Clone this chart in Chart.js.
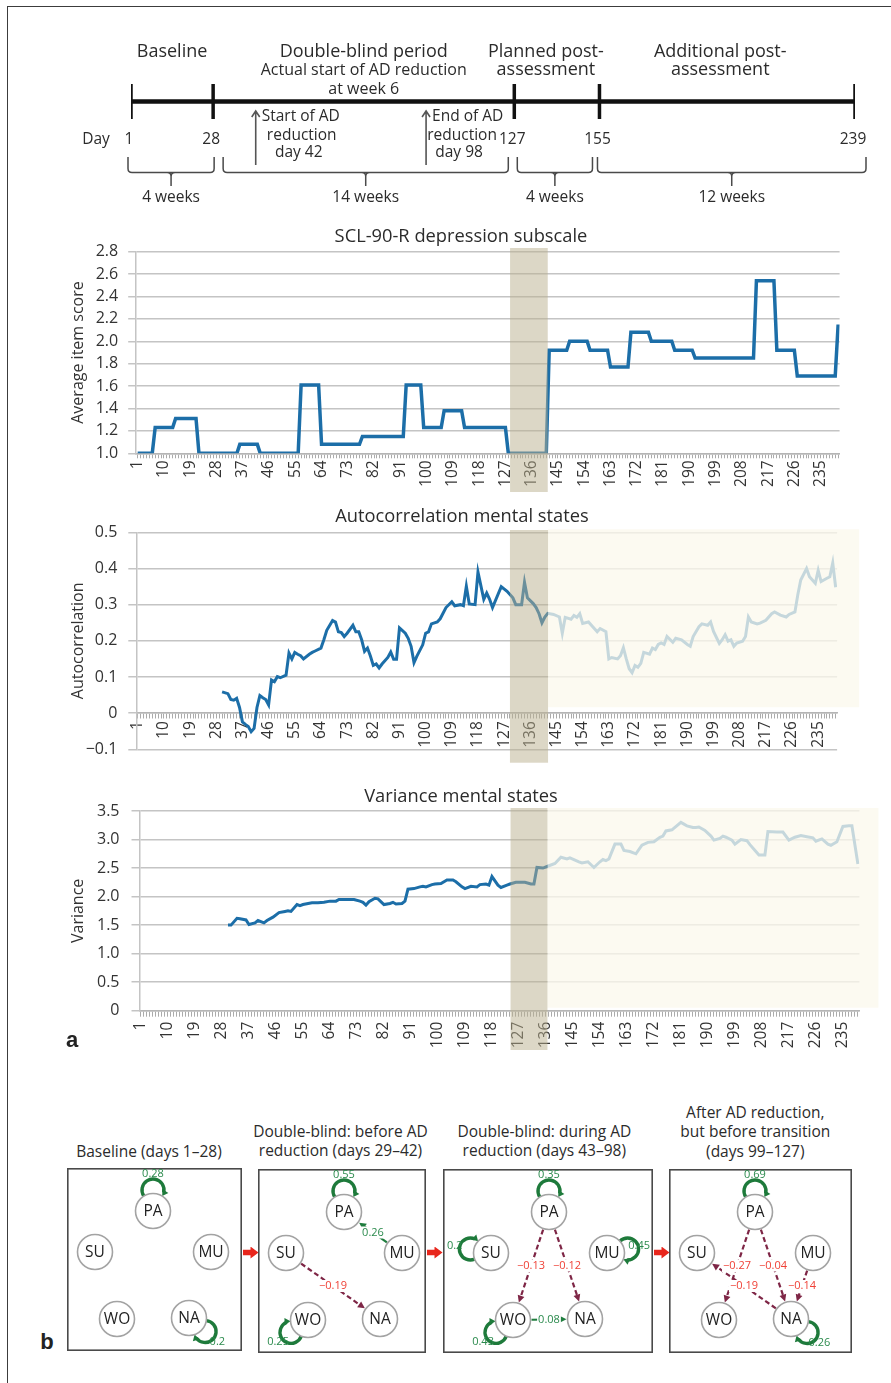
<!DOCTYPE html>
<html>
<head>
<meta charset="utf-8">
<title>AD reduction: SCL-90-R, autocorrelation and variance of mental states</title>
<script src="https://cdn.jsdelivr.net/npm/chart.js"></script>
<style>
  html, body { margin: 0; padding: 0; background: #fff; }
  #page { position: relative; width: 891px; height: 1383px; overflow: hidden; background: #fff;
    font-family: 'Open Sans', 'Noto Sans', sans-serif; color: #2b2b2b; }
  #frame { position: absolute; left: 7px; top: 6px; width: 900px; height: 1400px;
    border-top: 1.5px solid #3c3c3c; border-left: 1.5px solid #3c3c3c; }
  canvas { position: absolute; }
  .txt { position: absolute; white-space: nowrap; text-align: center; transform: translate(-50%, -50%); }
  .chart-title { font-size: 18.3px; }
  .net-title { font-size: 15.5px; line-height: 19.5px; transform: translate(-50%, -100%); }
  .tag { font-family: 'Liberation Sans', Arial, sans-serif; font-weight: bold; font-size: 22px; color: #222; }
  .flow { position: absolute; width: 16px; height: 12px; background: #e8261c;
    clip-path: polygon(0 28%, 50% 28%, 50% 0, 100% 50%, 50% 100%, 50% 72%, 0 72%); }
</style>
</head>
<body>
<div id="page">
  <div id="frame"></div>

  <canvas id="timeline" width="891" height="215" style="left:0;top:0"></canvas>

  <canvas id="scl" width="891" height="285" style="left:0;top:215px"></canvas>
  <div class="txt chart-title" style="left:461px;top:234px">SCL-90-R depression subscale</div>

  <canvas id="ac" width="891" height="275" style="left:0;top:495px"></canvas>
  <div class="txt chart-title" style="left:462px;top:514px">Autocorrelation mental states</div>

  <canvas id="variance" width="891" height="290" style="left:0;top:775px"></canvas>
  <div class="txt chart-title" style="left:461px;top:794px">Variance mental states</div>
  <div class="txt tag" style="left:72px;top:1040px">a</div>

  <div id="nets"></div>
  <div class="txt tag" style="left:47px;top:1342px">b</div>
</div>

<script>
Chart.defaults.font.family = "'Open Sans', 'Noto Sans', sans-serif";
Chart.defaults.color = '#2b2b2b';

// ---------- timeline ----------
const milestoneDays = [1, 28, 127, 155, 239];
const phaseHeaders = [['Baseline'], ['Double-blind period'], ['Planned post-', 'assessment'], ['Additional post-', 'assessment']];
const phaseNote = ['Actual start of AD reduction', 'at week 6'];
const reductionDays = [42, 98];
const reductionNotes = [['Start of AD', 'reduction', 'day 42'], ['End of AD', 'reduction', 'day 98']];
const periodFrom = [1, 28, 127, 155];
const periodTo = [28, 127, 155, 239];
const periodLabels = ['4 weeks', '14 weeks', '4 weeks', '12 weeks'];

// ---------- a: daily series ----------
const dayTickLabels = [1, 10, 19, 28, 37, 46, 55, 64, 73, 82, 91, 100, 109, 118, 127, 136, 145, 154, 163, 172, 181, 190, 199, 208, 217, 226, 235];

// SCL-90-R depression subscale, weekly score held per day
const sclDays = [1, 6, 7, 13, 14, 21, 22, 35, 36, 42,
  43, 56, 57, 63, 64, 77, 78, 92, 93, 98,
  99, 105, 106, 112, 113, 127, 128, 141, 142, 148,
  149, 155, 156, 162, 163, 169, 170, 176, 177, 184,
  185, 191, 192, 212, 213, 219, 220, 226, 227, 240, 241];
const sclScores = [1.0, 1.0, 1.23, 1.23, 1.31, 1.31, 1.0, 1.0, 1.08, 1.08,
  1.0, 1.0, 1.61, 1.61, 1.08, 1.08, 1.15, 1.15, 1.61, 1.61,
  1.23, 1.23, 1.38, 1.38, 1.23, 1.23, 1.0, 1.0, 1.92, 1.92,
  2.0, 2.0, 1.92, 1.92, 1.77, 1.77, 2.08, 2.08, 2.0, 2.0,
  1.92, 1.92, 1.85, 1.85, 2.54, 2.54, 1.92, 1.92, 1.69, 1.69, 2.15];
const sclTicks = [1.0, 1.2, 1.4, 1.6, 1.8, 2.0, 2.2, 2.4, 2.6, 2.8];
const sclTickText = ['1.0', '1.2', '1.4', '1.6', '1.8', '2.0', '2.2', '2.4', '2.6', '2.8'];

// autocorrelation of mental states (moving window)
const acDays = [30, 32, 33, 34, 35, 36, 37, 38, 39, 40,
  41, 42, 43, 44, 45, 46, 47, 48, 49, 50,
  52, 53, 54, 55, 56, 57, 58, 60, 61, 62,
  64, 65, 66, 68, 69, 70, 71, 72, 73, 75,
  76, 77, 78, 79, 80, 81, 82, 83, 84, 85,
  87, 88, 89, 90, 91, 93, 94, 95, 96, 97,
  99, 100, 101, 102, 104, 105, 107, 109, 110, 112,
  113, 114, 115, 117, 118, 120, 121, 122, 123, 126,
  128, 130, 131, 133, 134, 135, 137, 138, 139, 140,
  141, 142, 144, 146, 147, 148, 150, 151, 152, 153,
  154, 156, 158, 159, 160, 162, 163, 164, 166, 167,
  168, 169, 170, 171, 172, 173, 174, 175, 177, 178,
  179, 180, 181, 182, 183, 185, 186, 188, 190, 191,
  192, 194, 195, 197, 198, 199, 201, 202, 203, 204,
  205, 206, 207, 209, 210, 211, 212, 214, 215, 217,
  219, 220, 222, 224, 225, 227, 228, 229, 231, 232,
  233, 234, 235, 236, 238, 239, 240, 241];
const acValues = [0.059, 0.054, 0.038, 0.036, 0.041, 0.016, -0.024, -0.031, -0.037, -0.051,
  -0.042, 0.016, 0.049, 0.043, 0.038, 0.023, 0.092, 0.087, 0.101, 0.098,
  0.105, 0.166, 0.150, 0.168, 0.163, 0.159, 0.150, 0.163, 0.168, 0.172,
  0.180, 0.203, 0.229, 0.256, 0.252, 0.225, 0.223, 0.212, 0.221, 0.243,
  0.225, 0.225, 0.203, 0.171, 0.180, 0.158, 0.132, 0.136, 0.125, 0.136,
  0.154, 0.169, 0.149, 0.149, 0.236, 0.221, 0.207, 0.185, 0.140, 0.158,
  0.189, 0.221, 0.225, 0.247, 0.252, 0.261, 0.292, 0.308, 0.297, 0.300,
  0.297, 0.351, 0.302, 0.300, 0.390, 0.315, 0.332, 0.315, 0.292, 0.350,
  0.337, 0.319, 0.300, 0.300, 0.362, 0.319, 0.303, 0.292, 0.275, 0.250,
  0.266, 0.276, 0.273, 0.266, 0.221, 0.265, 0.260, 0.270, 0.265, 0.275,
  0.248, 0.252, 0.234, 0.225, 0.234, 0.225, 0.150, 0.154, 0.150, 0.159,
  0.181, 0.150, 0.123, 0.112, 0.132, 0.127, 0.138, 0.168, 0.163, 0.180,
  0.176, 0.190, 0.194, 0.190, 0.212, 0.196, 0.207, 0.203, 0.190, 0.185,
  0.212, 0.239, 0.247, 0.243, 0.252, 0.226, 0.193, 0.203, 0.217, 0.199,
  0.203, 0.185, 0.194, 0.199, 0.212, 0.266, 0.252, 0.247, 0.249, 0.257,
  0.275, 0.280, 0.271, 0.266, 0.273, 0.280, 0.328, 0.368, 0.400, 0.377,
  0.368, 0.359, 0.395, 0.364, 0.373, 0.377, 0.415, 0.348];
const acTicks = [-0.1, 0, 0.1, 0.2, 0.3, 0.4, 0.5];
const acTickText = ['\u22120.1', '0', '0.1', '0.2', '0.3', '0.4', '0.5'];

// variance of mental states (moving window)
const varDays = [30, 31, 33, 34, 36, 37, 39, 40, 42, 43,
  45, 47, 49, 50, 51, 53, 54, 55, 58, 60,
  62, 64, 66, 67, 69, 72, 74, 75, 76, 77,
  79, 80, 82, 84, 85, 86, 88, 89, 90, 92,
  94, 95, 96, 98, 99, 101, 103, 105, 106, 108,
  109, 111, 113, 114, 116, 117, 118, 120, 121, 123,
  124, 126, 129, 131, 132, 133, 135, 137, 139, 141,
  143, 144, 147, 148, 150, 152, 154, 155, 156, 157,
  159, 161, 162, 164, 166, 168, 170, 172, 174, 175,
  176, 178, 181, 183, 185, 186, 187, 189, 191, 192,
  194, 195, 196, 198, 199, 201, 203, 204, 206, 207,
  209, 210, 213, 215, 217, 219, 221, 223, 225, 226,
  228, 230, 231, 233, 235, 237, 238, 240];
const varValues = [1.50, 1.50, 1.62, 1.61, 1.59, 1.51, 1.54, 1.58, 1.54, 1.58,
  1.64, 1.72, 1.74, 1.75, 1.74, 1.86, 1.84, 1.86, 1.89, 1.89,
  1.90, 1.92, 1.92, 1.95, 1.95, 1.95, 1.92, 1.90, 1.85, 1.91,
  1.97, 1.96, 1.86, 1.88, 1.90, 1.87, 1.88, 1.92, 2.13, 2.14,
  2.17, 2.18, 2.17, 2.21, 2.22, 2.23, 2.29, 2.29, 2.26, 2.17,
  2.14, 2.18, 2.17, 2.21, 2.22, 2.20, 2.35, 2.20, 2.16, 2.20,
  2.22, 2.25, 2.25, 2.22, 2.22, 2.51, 2.50, 2.54, 2.58, 2.69,
  2.66, 2.68, 2.61, 2.59, 2.61, 2.51, 2.61, 2.65, 2.63, 2.66,
  2.92, 2.92, 2.81, 2.79, 2.75, 2.90, 2.95, 2.96, 3.04, 3.06,
  3.15, 3.17, 3.30, 3.24, 3.21, 3.21, 3.22, 3.16, 3.06, 2.99,
  3.02, 3.06, 3.04, 2.99, 2.92, 3.00, 2.98, 2.91, 2.79, 2.73,
  2.73, 3.14, 3.13, 3.13, 2.99, 3.04, 3.07, 3.05, 3.03, 2.97,
  3.01, 2.92, 2.90, 2.96, 3.23, 3.24, 3.24, 2.57];
const varTicks = [0, 0.5, 1.0, 1.5, 2.0, 2.5, 3.0, 3.5];
const varTickText = ['0', '0.5', '1.0', '1.5', '2.0', '2.5', '3.0', '3.5'];

// shaded transition window (days); the part after it is faded
const sclBand = [128.6, 141.5];
const acBand = [129.0, 142.1];
const varBand = [124.2, 136.5];

// ---------- b: networks ----------
const nodeNames = ['PA', 'SU', 'MU', 'WO', 'NA'];
const networkTitles = [
  ['Baseline (days 1\u201328)'],
  ['Double-blind: before AD', 'reduction (days 29\u201342)'],
  ['Double-blind: during AD', 'reduction (days 43\u201398)'],
  ['After AD reduction,', 'but before transition', '(days 99\u2013127)']
];
const autoLoops = [
  [['PA', 0.28], ['NA', 0.2]],
  [['PA', 0.55], ['WO', 0.25]],
  [['PA', 0.35], ['SU', 0.2], ['MU', 0.45], ['WO', 0.43]],
  [['PA', 0.69], ['NA', 0.26]]
];
const crossLinks = [
  [],
  [['MU', 'PA', 0.26], ['SU', 'NA', -0.19]],
  [['PA', 'WO', -0.13], ['PA', 'NA', -0.12], ['WO', 'NA', 0.08]],
  [['PA', 'WO', -0.27], ['PA', 'NA', -0.04], ['NA', 'SU', -0.19], ['MU', 'NA', -0.14]]
];

// ---------- layout ----------
const TL = { line: 101.5, dayRow: 140, hdrRows: [51.5, 69.5], noteRows: [70, 89],
  hdrShift: [0, 0, -11, -7], arrowTop: 111, arrowBottom: 165, noteTextRows: [117, 136, 153],
  noteShift: [46, 36], braceTop: 157, braceRow: 172.5, braceNotch: 186, braceLabel: 197.5,
  braceInL: [-3, 10, 3, -2], braceInR: [1, -6, -7, 11] };
const nodeX = [86, 28, 144, 50, 122];
const nodeY = [43, 84, 84, 151, 150];
const loopAngle = [-90, 191, -11, 144, 40];
const netBoxes = [
  { left: 67, top: 1168, w: 175, h: 183, x0: 0, title: 149 },
  { left: 258, top: 1169, w: 168, h: 184, x0: 0, title: 340.5 },
  { left: 443, top: 1169, w: 210, h: 184, x0: -20, title: 544.3 },
  { left: 669, top: 1169, w: 183, h: 184, x0: 0, title: 755.3 }
];
const NODE_R = 17.5;

const pts = (xs, ys) => xs.map((d, i) => ({ x: d, y: ys[i] }));
const allDays = Array.from({ length: 241 }, (_, i) => i + 1);

// ================= timeline =================
const timelineDecor = {
  id: 'timelineDecor',
  afterDatasetsDraw(chart) {
    const { ctx, scales: { x } } = chart;
    const px = d => x.getPixelForValue(d);
    ctx.save();
    ctx.fillStyle = '#2b2b2b';
    ctx.textBaseline = 'middle';
    ctx.textAlign = 'center';

    ctx.font = "18px 'Open Sans'";
    phaseHeaders.forEach((lines, i) => {
      const cx = (px(milestoneDays[i]) + px(milestoneDays[i + 1])) / 2 + TL.hdrShift[i];
      lines.forEach((t, j) => ctx.fillText(t, cx, TL.hdrRows[j]));
    });
    ctx.font = "16px 'Open Sans'";
    const mid = (px(milestoneDays[1]) + px(milestoneDays[2])) / 2;
    phaseNote.forEach((t, j) => ctx.fillText(t, mid, TL.noteRows[j]));

    ctx.font = "15.5px 'Open Sans'";
    ctx.fillText('Day', px(milestoneDays[0]) - 35, TL.dayRow);
    milestoneDays.forEach(d => ctx.fillText(String(d), px(d) - 2, TL.dayRow));

    // reduction arrows
    ctx.strokeStyle = '#555';
    ctx.lineWidth = 1.6;
    reductionDays.forEach((d, i) => {
      const ax = px(d);
      ctx.beginPath();
      ctx.moveTo(ax, TL.arrowBottom); ctx.lineTo(ax, TL.arrowTop);
      ctx.moveTo(ax - 4, TL.arrowTop + 6); ctx.lineTo(ax, TL.arrowTop); ctx.lineTo(ax + 4, TL.arrowTop + 6);
      ctx.stroke();
      const [l1, l2, l3] = reductionNotes[i];
      ctx.textAlign = 'left';
      ctx.fillText(l1, ax + 6, TL.noteTextRows[0]);
      ctx.textAlign = 'center';
      ctx.fillText(l2, ax + TL.noteShift[i], TL.noteTextRows[1]);
      ctx.fillText(l3, ax + TL.noteShift[i] - 3, TL.noteTextRows[2]);
    });

    // period braces
    ctx.strokeStyle = '#4a4a4a';
    ctx.lineWidth = 1.5;
    const r = TL.braceRow;
    periodFrom.forEach((d0, i) => {
      const x0 = px(d0) + TL.braceInL[i], x1 = px(periodTo[i]) + TL.braceInR[i], xm = (x0 + x1) / 2;
      ctx.beginPath();
      ctx.moveTo(x0, TL.braceTop);
      ctx.lineTo(x0, r - 4);
      ctx.quadraticCurveTo(x0, r, x0 + 4, r);
      ctx.lineTo(x1 - 4, r);
      ctx.quadraticCurveTo(x1, r, x1, r - 4);
      ctx.lineTo(x1, TL.braceTop);
      ctx.moveTo(xm - 4, r);
      ctx.quadraticCurveTo(xm, r, xm, r + 4);
      ctx.lineTo(xm, TL.braceNotch);
      ctx.moveTo(xm + 4, r);
      ctx.quadraticCurveTo(xm, r, xm, r + 4);
      ctx.stroke();
      ctx.fillText(periodLabels[i], xm, TL.braceLabel);
    });
    ctx.restore();
  }
};

new Chart(document.getElementById('timeline'), {
  type: 'line',
  data: {
    datasets: [
      { data: [{ x: milestoneDays[0], y: TL.line }, { x: milestoneDays[milestoneDays.length - 1], y: TL.line }],
        borderColor: '#111', borderWidth: 4.5, pointRadius: 0 },
      { data: milestoneDays.map(d => ({ x: d, y: TL.line })), showLine: false,
        pointStyle: 'line', pointRotation: 90, pointRadius: 17.5, pointBorderWidth: 3.5,
        pointBorderColor: '#111', borderColor: '#111' }
    ]
  },
  options: {
    responsive: false, animation: false, events: [],
    layout: { autoPadding: false, padding: { left: 131, right: 36, top: 0, bottom: 0 } },
    scales: {
      x: { type: 'linear', display: false, min: milestoneDays[0], max: milestoneDays[milestoneDays.length - 1] },
      y: { type: 'linear', display: false, min: 0, max: 215, reverse: true }
    },
    plugins: { legend: { display: false }, tooltip: { enabled: false } }
  },
  plugins: [timelineDecor]
});

// ================= line charts =================
const phaseShade = {
  id: 'phaseShade',
  afterDraw(chart, args, o) {
    const { ctx, chartArea: a, scales: { x, y } } = chart;
    ctx.save();
    const b0 = x.getPixelForValue(o.band[0]), b1 = x.getPixelForValue(o.band[1]);
    if (o.fadeRight !== undefined) {
      const top = a.top - 3, bottom = y.getPixelForValue(0) - o.fadeGap;
      ctx.fillStyle = 'rgba(251,248,236,0.76)';
      ctx.fillRect(b1, top, a.right + o.fadeRight - b1, bottom - top);
    }
    ctx.fillStyle = 'rgba(185,175,141,0.5)';
    const top = a.top - o.bandAbove;
    ctx.fillRect(b0, top, b1 - b0, a.bottom + o.bandBelow - top);
    ctx.restore();
  }
};

function dayAxis(o) {
  const ax = {
    type: 'linear', min: 0.5, max: o.last + 0.5, position: o.position || 'bottom',
    afterBuildTicks: s => { s.ticks = allDays.filter(d => d <= o.last).map(d => ({ value: d })); },
    ticks: { autoSkip: false, minRotation: 90, maxRotation: 90, padding: o.pad, color: '#333',
      font: { size: 15.5 }, callback: v => (dayTickLabels.includes(v) ? String(v) : '') },
    grid: { drawOnChartArea: false, tickLength: o.tick, color: '#ababab', lineWidth: 1 },
    border: { color: '#b5b5b5', width: 1.5 }
  };
  if (o.height) ax.afterFit = s => { s.height = o.height; };
  return ax;
}

function valueAxis(vals, text, title, o) {
  return {
    type: 'linear', min: vals[0], max: vals[vals.length - 1],
    afterBuildTicks: s => { s.ticks = vals.map(v => ({ value: v })); },
    afterFit: s => { s.width = o.width; },
    ticks: { padding: o.pad, color: '#333', font: { size: 16 }, callback: v => text[vals.indexOf(v)] },
    grid: { color: '#c4c4c4', lineWidth: 1.5, tickLength: 8 },
    border: { color: '#c4c4c4', width: 1.5 },
    title: { display: true, text: title, color: '#333', font: { size: 16 }, padding: { top: 0, bottom: 0 } }
  };
}

const lineStyle = { borderColor: '#1c6ea8', pointRadius: 0, tension: 0, fill: false };
const baseOpts = { responsive: false, animation: false, events: [] };

new Chart(document.getElementById('scl'), {
  type: 'line',
  data: { datasets: [{ data: pts(sclDays, sclScores), ...lineStyle, borderWidth: 3.5 }] },
  options: {
    ...baseOpts,
    layout: { autoPadding: false, padding: { left: 68.5, right: 51.4, top: 36.7, bottom: 0 } },
    scales: {
      x: dayAxis({ last: 241, tick: 5, pad: 2, height: 46.7 }),
      y: valueAxis(sclTicks, sclTickText, 'Average item score', { width: 67.7, pad: 10 })
    },
    plugins: { legend: { display: false }, tooltip: { enabled: false },
      phaseShade: { band: sclBand, bandAbove: 3.7, bandBelow: 38.7 } }
  },
  plugins: [phaseShade]
});

new Chart(document.getElementById('ac'), {
  type: 'line',
  data: { datasets: [{ data: pts(acDays, acValues), ...lineStyle, borderWidth: 3 }] },
  options: {
    ...baseOpts,
    layout: { autoPadding: false, padding: { left: 68.5, right: 53.9, top: 37.3, bottom: 13.3 } },
    scales: {
      x: dayAxis({ last: 241, tick: 5, pad: 3, position: { y: 0 } }),
      y: valueAxis(acTicks, acTickText, 'Autocorrelation', { width: 67.8, pad: 11 })
    },
    plugins: { legend: { display: false }, tooltip: { enabled: false },
      phaseShade: { band: acBand, bandAbove: 2.3, bandBelow: 13.3, fadeRight: 22, fadeGap: 6 } }
  },
  plugins: [phaseShade]
});

new Chart(document.getElementById('variance'), {
  type: 'line',
  data: { datasets: [{ data: pts(varDays, varValues), ...lineStyle, borderWidth: 3 }] },
  options: {
    ...baseOpts,
    layout: { autoPadding: false, padding: { left: 68.5, right: 31.6, top: 36, bottom: 0 } },
    scales: {
      x: dayAxis({ last: 240, tick: 6, pad: 5, height: 54.3 }),
      y: valueAxis(varTicks, varTickText, 'Variance', { width: 71, pad: 12 })
    },
    plugins: { legend: { display: false }, tooltip: { enabled: false },
      phaseShade: { band: varBand, bandAbove: 3, bandBelow: 39.3, fadeRight: 19, fadeGap: 3 } }
  },
  plugins: [phaseShade]
});

// ================= networks =================
function arrowHead(ctx, tx, ty, ux, uy, len, half) {
  ctx.beginPath();
  ctx.moveTo(tx, ty);
  ctx.lineTo(tx - ux * len - uy * half, ty - uy * len + ux * half);
  ctx.lineTo(tx - ux * len + uy * half, ty - uy * len - ux * half);
  ctx.closePath();
  ctx.fill();
}
const fmtW = w => (w < 0 ? '\u2212' + Math.abs(w) : String(w));
const nodeAt = chart => name => {
  const i = nodeNames.indexOf(name);
  return [chart.scales.x.getPixelForValue(nodeX[i]), chart.scales.y.getPixelForValue(nodeY[i])];
};

const netDecor = {
  id: 'netDecor',
  beforeDatasetsDraw(chart, args, o) {
    const { ctx, width, height } = chart;
    const at = nodeAt(chart);
    ctx.save();
    ctx.strokeStyle = '#4a4a4a';
    ctx.lineWidth = 1.6;
    ctx.strokeRect(0.8, 0.8, width - 1.6, height - 1.6);

    crossLinks[o.panel].forEach(([from, to, w]) => {
      const [x1, y1] = at(from), [x2, y2] = at(to);
      const L = Math.hypot(x2 - x1, y2 - y1), ux = (x2 - x1) / L, uy = (y2 - y1) / L;
      const col = w < 0 ? '#7e2646' : '#1f7d3e';
      ctx.strokeStyle = col; ctx.fillStyle = col; ctx.lineWidth = 2.2;
      ctx.setLineDash(w < 0 ? [5, 3] : []);
      ctx.beginPath();
      ctx.moveTo(x1 + ux * (NODE_R + 1), y1 + uy * (NODE_R + 1));
      ctx.lineTo(x2 - ux * (NODE_R + 6), y2 - uy * (NODE_R + 6));
      ctx.stroke();
      ctx.setLineDash([]);
      arrowHead(ctx, x2 - ux * (NODE_R + 1), y2 - uy * (NODE_R + 1), ux, uy, 7, 3.5);
    });

    autoLoops[o.panel].forEach(([name]) => {
      const [cx, cy] = at(name);
      const th = loopAngle[nodeNames.indexOf(name)] * Math.PI / 180;
      const d = 21, r = 11;
      const lx = cx + Math.cos(th) * d, ly = cy + Math.sin(th) * d;
      const phi = Math.acos((d * d + r * r - NODE_R * NODE_R) / (2 * d * r));
      const a0 = th + Math.PI + phi, a1 = th + Math.PI - phi + 2 * Math.PI;
      ctx.strokeStyle = '#1e7a3b'; ctx.fillStyle = '#1e7a3b'; ctx.lineWidth = 3.4;
      ctx.beginPath();
      ctx.arc(lx, ly, r, a0, a1 - 0.35);
      ctx.stroke();
      arrowHead(ctx, lx + Math.cos(a1) * r, ly + Math.sin(a1) * r, -Math.sin(a1), Math.cos(a1), 6, 3.5);
    });
    ctx.restore();
  },
  afterDatasetsDraw(chart, args, o) {
    const { ctx, width } = chart;
    const at = nodeAt(chart);
    ctx.save();
    ctx.textAlign = 'center';
    ctx.textBaseline = 'middle';

    ctx.font = "11px 'Open Sans'";
    crossLinks[o.panel].forEach(([from, to, w]) => {
      const [x1, y1] = at(from), [x2, y2] = at(to);
      const mx = (x1 + x2) / 2, my = (y1 + y2) / 2, t = fmtW(w);
      const tw = ctx.measureText(t).width;
      ctx.fillStyle = '#fff';
      ctx.fillRect(mx - tw / 2 - 1, my - 6, tw + 2, 12);
      ctx.fillStyle = w < 0 ? '#ef4136' : '#2a8a4c';
      ctx.fillText(t, mx, my);
    });
    autoLoops[o.panel].forEach(([name, w]) => {
      const [cx, cy] = at(name);
      const th = loopAngle[nodeNames.indexOf(name)] * Math.PI / 180;
      const t = fmtW(w), half = ctx.measureText(t).width / 2;
      const lx = Math.min(Math.max(cx + Math.cos(th) * 37, half + 3), width - half - 3);
      ctx.fillStyle = '#2a8a4c';
      ctx.fillText(t, lx, cy + Math.sin(th) * 37);
    });

    ctx.font = "15.5px 'Open Sans'";
    ctx.fillStyle = '#222';
    nodeNames.forEach(n => { const [x, y] = at(n); ctx.fillText(n, x, y + 0.5); });
    ctx.restore();
  }
};

const nets = document.getElementById('nets');
netBoxes.forEach((b, i) => {
  const cv = document.createElement('canvas');
  cv.width = b.w; cv.height = b.h;
  cv.style.left = b.left + 'px'; cv.style.top = b.top + 'px';
  nets.appendChild(cv);

  const title = document.createElement('div');
  title.className = 'txt net-title';
  title.style.left = b.title + 'px';
  title.style.top = '1160.75px';
  title.innerHTML = networkTitles[i].join('<br>');
  nets.appendChild(title);

  if (i < netBoxes.length - 1) {
    const arrow = document.createElement('div');
    arrow.className = 'flow';
    arrow.style.left = (b.left + b.w + 0.5) + 'px';
    arrow.style.top = '1246.5px';
    nets.appendChild(arrow);
  }

  new Chart(cv, {
    type: 'scatter',
    data: { datasets: [{ data: pts(nodeX, nodeY), pointRadius: NODE_R, pointBackgroundColor: '#fff',
      pointBorderColor: '#a3a3a3', pointBorderWidth: 1.6 }] },
    options: {
      ...baseOpts,
      layout: { autoPadding: false, padding: 0 },
      scales: {
        x: { type: 'linear', display: false, min: b.x0, max: b.x0 + b.w },
        y: { type: 'linear', display: false, min: 0, max: b.h, reverse: true }
      },
      plugins: { legend: { display: false }, tooltip: { enabled: false }, netDecor: { panel: i } }
    },
    plugins: [netDecor]
  });
});
</script>
</body>
</html>
